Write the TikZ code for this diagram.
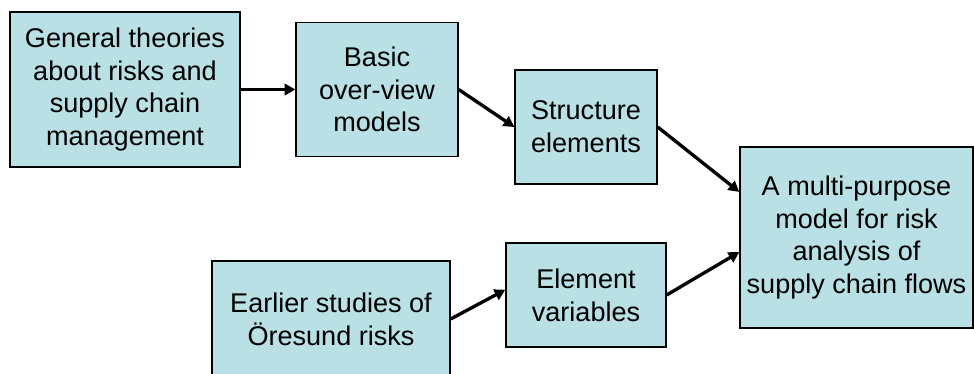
\documentclass[tikz,border=0pt]{standalone}
\usepackage{fontspec}
\setmainfont{Liberation Sans}
\usetikzlibrary{arrows.meta,calc}
\definecolor{boxcyan}{RGB}{185, 224, 228}

\tikzset{
    stage/.style={draw=black, line width=1pt, fill=boxcyan, align=center, inner sep=0pt,
                  font=\fontsize{20.3}{24.6}\selectfont},
    flow/.style={line width=2.5pt, -{Triangle[length=8pt, width=8.5pt]}}
}

\begin{document}
\begin{tikzpicture}[x=0.75pt, y=-0.75pt]
            \useasboundingbox (0,0) rectangle (974,374);
            \node[stage, minimum width=0.75*230pt, minimum height=0.75*155pt] (gen)    at (125.0, 89.5)
                 {General theories\\about risks and\\supply chain\\management};
            \node[stage, minimum width=0.75*162pt, minimum height=0.75*134pt] (basic)  at (377.0, 89.5)
                 {Basic\\over-view\\models};
            \node[stage, minimum width=0.75*142pt, minimum height=0.75*114pt] (struct) at (586.0,127.0)
                 {Structure\\elements};
            \node[stage, minimum width=0.75*233pt, minimum height=0.75*181pt] (final)  at (856.5,237.5)
                 {A multi-purpose\\model for risk\\analysis of\\supply chain flows};
            \node[stage, minimum width=0.75*160pt, minimum height=0.75*104pt] (elem)   at (586.0,295.0)
                 {Element\\variables};
            \node[stage, minimum width=0.75*238pt, minimum height=0.75*116pt] (earl)   at (331.0,319.0)
                 {Earlier studies of\\Öresund risks};
            \draw[flow] (gen.east)    -- (basic.west);
            \draw[flow] (basic.east)  -- (struct.west);
            \draw[flow] (struct.east) -- ($(final.north west)!0.25!(final.south west)$);
            \draw[flow] (earl.east)   -- ($(elem.north west)!0.45!(elem.south west)$);
            \draw[flow] (elem.east)   -- ($(final.north west)!0.58!(final.south west)$);
        \end{tikzpicture}
\end{document}
